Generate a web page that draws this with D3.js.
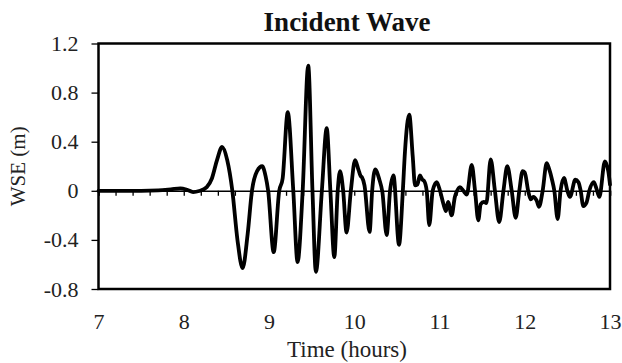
<!DOCTYPE html>
<html><head><meta charset="utf-8">
<script src="https://cdn.jsdelivr.net/npm/d3@7"></script>
<style>
html,body{margin:0;padding:0;background:#fff;}
svg{display:block;}
svg text{font-family:"Liberation Serif","DejaVu Serif",serif !important;}
</style></head>
<body>
<svg id="chart" width="622" height="363"></svg>
<script>
const title = "Incident Wave";
const xLabel = "Time (hours)";
const yLabel = "WSE (m)";
const xTicks = [7, 8, 9, 10, 11, 12, 13];
const yTicks = [-0.8, -0.4, 0, 0.4, 0.8, 1.2];
const yTickLabels = ["-0.8", "-0.4", "0", "0.4", "0.8", "1.2"];

const time = [7.0,7.5,7.7,7.85,7.96,8.04,8.11,8.18,8.27,8.33,8.39,8.45,8.51,8.57,8.63,8.69,8.75,8.80,8.86,8.92,8.96,8.99,
9.055,9.12,9.16,9.22,9.285,9.335,9.395,9.46,9.51,9.55,9.62,9.677,9.72,9.766,9.806,9.833,9.87,9.91,9.96,
10.01,10.05,10.075,10.09,10.12,10.18,10.21,10.245,10.295,10.33,10.38,10.42,10.46,10.525,10.57,10.595,10.645,10.686,10.713,10.74,10.77,10.80,10.82,10.85,10.88,10.92,10.967,
11.006,11.045,11.076,11.10,11.143,11.18,11.20,11.24,11.28,11.32,11.378,11.417,11.455,11.483,11.52,11.55,11.60,11.65,11.70,11.75,11.795,11.847,11.894,11.936,11.975,
12.0,12.04,12.07,12.10,12.14,12.167,12.21,12.257,12.285,12.32,12.347,12.386,12.42,12.46,12.50,12.53,12.593,12.63,12.656,12.687,12.725,12.757,12.81,12.84,12.875,12.94,12.98,13.0];
const wse = [0,0,0.003,0.012,0.02,0.008,-0.01,-0.002,0.03,0.1,0.25,0.357,0.25,0,-0.4,-0.63,-0.35,0,0.16,0.20,0.12,0,
-0.50,0,0.10,0.64,0,-0.58,0,1.02,0,-0.66,0,0.51,0,-0.54,0,0.16,0,-0.34,0,
0.25,0.17,0.12,0.11,0.045,-0.335,0,0.175,0.09,-0.01,-0.36,0,0.125,-0.44,0,0.32,0.62,0.28,0.045,0.05,0.125,0.09,0.08,0,-0.28,0,0.07,
0,-0.105,-0.165,-0.09,-0.2,-0.05,-0.01,0.03,0,-0.03,0.21,0,-0.24,-0.11,-0.09,-0.1,0.255,0,-0.255,0,0.20,0,-0.22,0,0.16,
0.15,0,-0.07,-0.05,-0.08,-0.13,0,0.225,0.18,0.09,0,-0.23,0,0.105,0,-0.05,0.09,0.07,0,-0.125,-0.095,0,0.07,0.02,-0.05,0.24,0.16,0.05];

const svg = d3.select("#chart");
const L = 98.5, R = 610, T = 43.5, B = 289;
const x = d3.scaleLinear().domain([7, 13]).range([L, R]);
const y = d3.scaleLinear().domain([-0.8, 1.2]).range([B, T]);

// zero line with minor ticks
const zeroAxis = d3.axisBottom(x).tickValues(d3.range(7, 13.0001, 0.2)).tickSize(5).tickFormat("");
const zg = svg.append("g").attr("transform", `translate(0,${y(0)})`).call(zeroAxis);
zg.select(".domain").attr("stroke", "#000").attr("stroke-width", 1.5);
zg.selectAll(".tick line").attr("stroke", "#000").attr("stroke-width", 1.3);

// y axis
const yAxis = d3.axisLeft(y).tickValues(yTicks).tickSize(7).tickFormat((d, i) => yTickLabels[i]);
const yg = svg.append("g").attr("transform", `translate(${L},0)`).call(yAxis);
yg.select(".domain").remove();
yg.selectAll(".tick line").attr("stroke", "#000").attr("stroke-width", 1.3);
yg.selectAll(".tick text").attr("x", -20).attr("font-size", 22).attr("fill", "#222");

// x axis labels
const xAxis = d3.axisBottom(x).tickValues(xTicks).tickSize(0).tickFormat(d3.format("d"));
const xg = svg.append("g").attr("transform", `translate(0,${B})`).call(xAxis);
xg.select(".domain").remove();
xg.selectAll(".tick text").attr("y", 24).attr("font-size", 22).attr("fill", "#222");

// frame
svg.append("rect").attr("x", L).attr("y", T).attr("width", R - L).attr("height", B - T)
  .attr("fill", "none").attr("stroke", "#000").attr("stroke-width", 2.5);

// line
const pts = time.map((t, i) => [t, wse[i]]);
const line = d3.line().x(d => x(d[0])).y(d => y(d[1])).curve(d3.curveMonotoneX);
svg.append("path").datum(pts).attr("d", line).attr("fill", "none")
  .attr("stroke", "#000").attr("stroke-width", 3.8).attr("stroke-linejoin", "round").attr("stroke-linecap", "round");

// titles
svg.append("text").attr("x", 347).attr("y", 31).attr("text-anchor", "middle")
  .attr("font-size", 27).attr("font-weight", "bold").attr("fill", "#111").text(title);
svg.append("text").attr("x", 347).attr("y", 357).attr("text-anchor", "middle")
  .attr("font-size", 23).attr("fill", "#222").text(xLabel);
svg.append("text").attr("transform", `translate(25,${(T + B) / 2}) rotate(-90)`).attr("text-anchor", "middle")
  .attr("font-size", 21).attr("fill", "#222").text(yLabel);
</script>
</body></html>
